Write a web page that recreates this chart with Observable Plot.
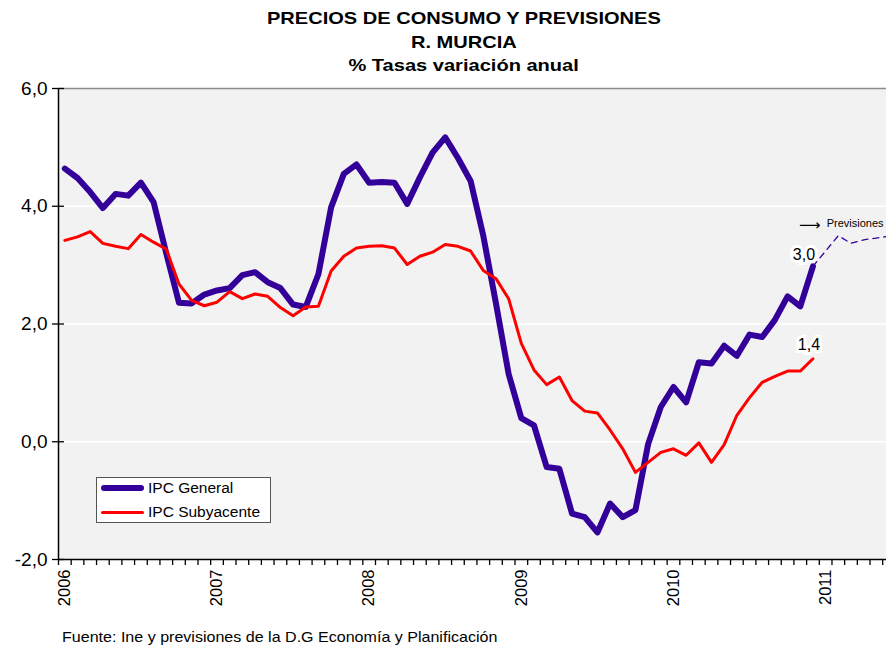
<!DOCTYPE html>
<html><head><meta charset="utf-8">
<script src="https://cdn.jsdelivr.net/npm/d3@7"></script>
<script src="https://cdn.jsdelivr.net/npm/@observablehq/plot@0.6"></script>
<style>
body{margin:0;background:#fff;font-family:"Liberation Sans",Arial,sans-serif;}
#wrap{position:relative;width:886px;height:650px;overflow:hidden;}
#title{position:absolute;top:7px;left:21px;width:886px;text-align:center;font-weight:bold;font-size:17px;line-height:23.5px;color:#000;}
#title span{display:inline-block;transform:scaleX(1.18);}
#chart{position:absolute;top:78px;left:0;}
#legend{position:absolute;left:96px;top:477px;width:175px;height:46px;box-sizing:border-box;border:1px solid #555;background:#fff;}
.lg{position:absolute;left:4px;height:20px;display:flex;align-items:center;font-size:15.5px;white-space:nowrap;}
.lg i{display:inline-block;width:43px;margin-right:4px;border-radius:3px;}
#foot{position:absolute;left:62px;top:628px;font-size:15px;color:#000;transform-origin:0 50%;transform:scaleX(1.07);white-space:nowrap;}
</style></head>
<body><div id="wrap">
<div id="title"><span>PRECIOS DE CONSUMO Y PREVISIONES</span><br><span>R. MURCIA</span><br><span>% Tasas variación anual</span></div>
<div id="chart"></div>
<div id="legend"></div>
<div id="foot">Fuente: Ine y previsiones de la D.G Economía y Planificación</div>
</div>
<script>
// Monthly series, Jan 2006 .. Dec 2010 (index 0..59)
const ipcGeneral = [
  4.64, 4.48, 4.24, 3.97, 4.21, 4.18, 4.40, 4.07, 3.20, 2.36, 2.35, 2.50,
  2.57, 2.61, 2.83, 2.88, 2.71, 2.61, 2.33, 2.29, 2.85, 3.98, 4.55, 4.71,
  4.40, 4.41, 4.40, 4.04, 4.49, 4.91, 5.17, 4.82, 4.43, 3.50, 2.35, 1.15,
  0.40, 0.28, -0.43, -0.46, -1.22, -1.28, -1.54, -1.05, -1.28, -1.16, -0.04, 0.59,
  0.93, 0.67, 1.35, 1.33, 1.63, 1.46, 1.82, 1.78, 2.07, 2.47, 2.30, 2.98
];
const ipcSubyacente = [
  3.42, 3.48, 3.57, 3.37, 3.32, 3.28, 3.52, 3.39, 3.27, 2.68, 2.40, 2.31,
  2.37, 2.55, 2.43, 2.51, 2.47, 2.28, 2.14, 2.29, 2.30, 2.90, 3.15, 3.29,
  3.32, 3.33, 3.29, 3.01, 3.15, 3.22, 3.35, 3.32, 3.24, 2.91, 2.77, 2.43,
  1.67, 1.22, 0.97, 1.10, 0.70, 0.52, 0.49, 0.20, -0.12, -0.52, -0.35, -0.18,
  -0.12, -0.23, -0.02, -0.35, -0.05, 0.45, 0.75, 1.01, 1.11, 1.20, 1.20, 1.41
];
// Forecast (dashed), month index and value
const previsionIdx = [59, 61, 62, 63, 64, 65];
const previsionVal = [2.98, 3.50, 3.37, 3.43, 3.46, 3.49];
const yearLabels = ["2006", "2007", "2008", "2009", "2010", "2011"];
const yTicks = [-2, 0, 2, 4, 6];
const seriesNames = ["IPC General", "IPC Subyacente"];
const seriesColors = ["#330099", "#ff0000"];

const fmt = d => d.toFixed(1).replace(".", ",");
const gen = ipcGeneral.map((v, i) => ({i, v}));
const sub = ipcSubyacente.map((v, i) => ({i, v}));
const prev = previsionIdx.map((i, k) => ({i, v: previsionVal[k]}));
const xDomain = [-0.5, 64.8];
const monthBounds = d3.range(xDomain[0], xDomain[1], 1);
const yearTicks = yearLabels.map((_, k) => k * 12);

const chart = Plot.plot({
  width: 886, height: 536,
  marginLeft: 58, marginRight: 0, marginTop: 10, marginBottom: 55,
  x: {type: "linear", domain: xDomain, axis: null},
  y: {domain: [-2, 6], axis: null},
  style: {fontFamily: "'Liberation Sans', Arial, sans-serif", background: "transparent", color: "#000", overflow: "visible"},
  marks: [
    Plot.frame({fill: "#f2f2f2", stroke: "none"}),
    Plot.ruleY(yTicks.filter(t => t > -2 && t < 6), {stroke: "#fff", strokeWidth: 1.5}),
    Plot.ruleY([6], {stroke: "#8c8c8c", strokeWidth: 1.5}),
    Plot.line(gen, {x: "i", y: "v", stroke: seriesColors[0], strokeWidth: 6, strokeLinejoin: "round"}),
    Plot.line(prev, {x: "i", y: "v", stroke: seriesColors[0], strokeWidth: 1.3, strokeDasharray: "6,5", clip: true}),
    Plot.line(sub, {x: "i", y: "v", stroke: seriesColors[1], strokeWidth: 3, strokeLinejoin: "round"}),
    Plot.ruleY([-2], {stroke: "#000", strokeWidth: 1.5}),
    Plot.ruleX([xDomain[0]], {stroke: "#000", strokeWidth: 1.5}),
    Plot.axisY({ticks: yTicks, tickFormat: fmt, label: null, tickSize: 12, dx: 6, tickPadding: 5, fontSize: 19, stroke: "#000", strokeWidth: 1.3}),
    Plot.axisX({ticks: monthBounds, tickFormat: () => "", label: null, tickSize: 6, stroke: "#000", strokeWidth: 1.3}),
    Plot.axisX({ticks: yearTicks, tickFormat: d => yearLabels[d / 12], label: null, tickSize: 0, tickRotate: -90, tickPadding: 10, fontSize: 16.5}),
    Plot.text([gen[gen.length - 1]], {x: "i", y: "v", text: d => fmt(d.v), dx: -9, dy: -11, fontSize: 16, fill: "#000", stroke: "#fff", strokeWidth: 6, strokeLinejoin: "miter"}),
    Plot.text([sub[sub.length - 1]], {x: "i", y: "v", text: d => fmt(d.v), dx: -4, dy: -14, fontSize: 16, fill: "#000", stroke: "#fff", strokeWidth: 6, strokeLinejoin: "miter"}),
    Plot.text(["Previsiones"], {frameAnchor: "top-right", text: d => d, textAnchor: "end", dx: -3, dy: 131, fontSize: 11, fill: "#000"}),
    Plot.text(["⟶"], {frameAnchor: "top-right", text: d => d, textAnchor: "end", dx: -66, dy: 131, fontSize: 15, fill: "#000", fontFamily: "DejaVu Sans"})
  ]
});
document.getElementById("chart").appendChild(chart);

const lg = document.getElementById("legend");
seriesNames.forEach((name, k) => {
  const row = document.createElement("div");
  row.className = "lg";
  row.style.top = (k === 0 ? 0 : 24) + "px";
  const sw = document.createElement("i");
  sw.style.height = (k === 0 ? 6 : 3) + "px";
  sw.style.background = seriesColors[k];
  row.appendChild(sw);
  row.appendChild(document.createTextNode(name));
  lg.appendChild(row);
});
</script>
</body></html>
